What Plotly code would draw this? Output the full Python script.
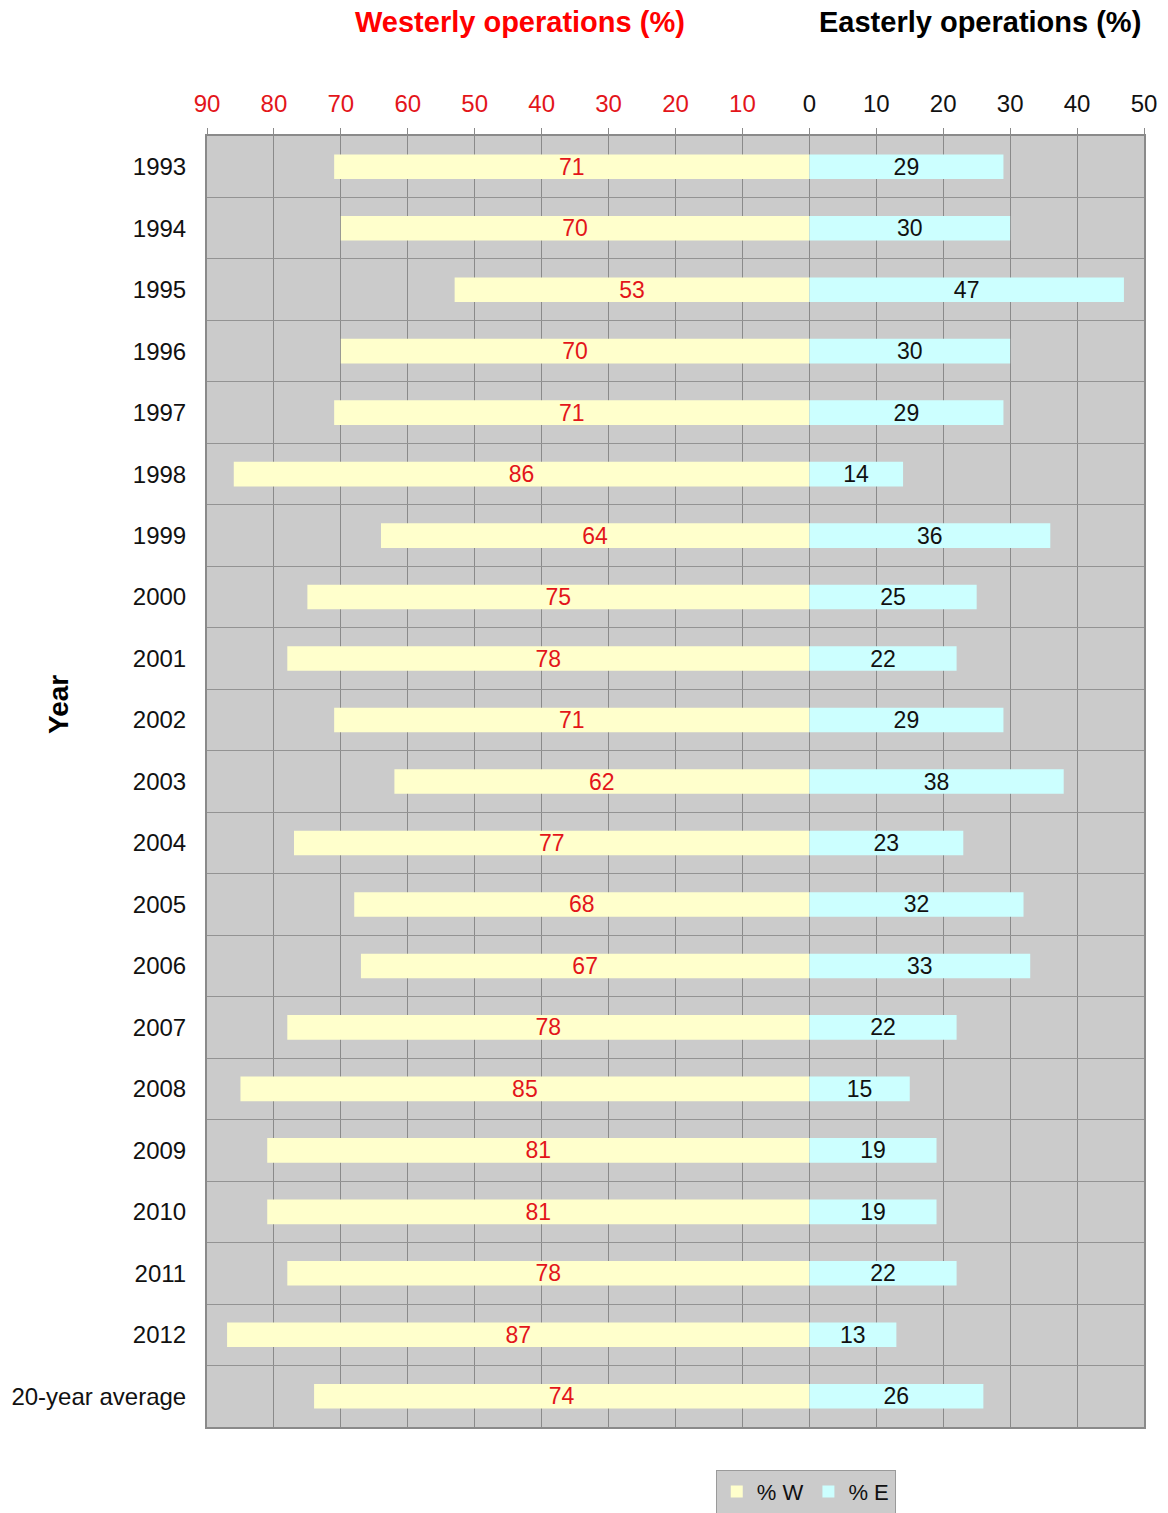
import plotly.graph_objects as go

years = ["1993", "1994", "1995", "1996", "1997", "1998", "1999", "2000", "2001", "2002",
         "2003", "2004", "2005", "2006", "2007", "2008", "2009", "2010", "2011", "2012",
         "20-year average"]
west = [71, 70, 53, 70, 71, 86, 64, 75, 78, 71, 62, 77, 68, 67, 78, 85, 81, 81, 78, 87, 74]
east = [29, 30, 47, 30, 29, 14, 36, 25, 22, 29, 38, 23, 32, 33, 22, 15, 19, 19, 22, 13, 26]
tick_vals = [-90, -80, -70, -60, -50, -40, -30, -20, -10, 0, 10, 20, 30, 40, 50]

RED = "#e3151a"
FONT = "Liberation Sans, Arial, sans-serif"

tick_text = [f"<span style='color:{RED}'>{abs(v)}</span>" if v < 0 else str(v) for v in tick_vals]

fig = go.Figure()
fig.add_trace(go.Bar(
    y=years, x=[-v for v in west], orientation="h", name="% W",
    marker=dict(color="#ffffcc", line=dict(width=0)), width=0.4,
    text=[str(v) for v in west], textposition="inside", insidetextanchor="middle",
    textfont=dict(color=RED, size=23, family=FONT), textangle=0,
    constraintext="none", cliponaxis=False,
))
fig.add_trace(go.Bar(
    y=years, x=east, orientation="h", name="% E",
    marker=dict(color="#ccffff", line=dict(width=0)), width=0.4,
    text=[str(v) for v in east], textposition="inside", insidetextanchor="middle",
    textfont=dict(color="#111111", size=23, family=FONT), textangle=0,
    constraintext="none", cliponaxis=False,
))

fig.update_layout(
    width=1168, height=1513,
    margin=dict(l=207, r=24, t=136, b=86, autoexpand=False),
    paper_bgcolor="white", plot_bgcolor="#cbcbcb",
    barmode="relative", bargap=0.6,
    font=dict(family=FONT, size=24, color="#111111"),
    showlegend=True,
    legend=dict(
        orientation="h", x=0.639, xanchor="center", y=-0.033, yanchor="top",
        bgcolor="#cbcbcb", bordercolor="#9a9a9a", borderwidth=1,
        font=dict(size=22, family=FONT, color="#111111"),
        itemwidth=30, tracegroupgap=0,
    ),
    xaxis=dict(
        side="top", range=[-90, 50], tickmode="array", tickvals=tick_vals, ticktext=tick_text,
        showgrid=True, gridcolor="#8a8a8a", gridwidth=1, zeroline=False,
        ticks="outside", ticklen=6, tickcolor="#8a8a8a",
        showline=True, linecolor="#8a8a8a", linewidth=2, mirror=True,
        tickfont=dict(size=24, family=FONT, color="#111111"), ticklabelstandoff=6,
        fixedrange=True,
    ),
    yaxis=dict(
        type="category", categoryorder="array", categoryarray=years, autorange="reversed",
        tickson="boundaries", showgrid=True, gridcolor="#939393", gridwidth=1,
        ticks="", showline=True, linecolor="#8a8a8a", linewidth=2, mirror=True,
        tickfont=dict(size=24, family=FONT, color="#111111"), ticklabelstandoff=14,
        fixedrange=True,
    ),
    annotations=[
        dict(text="<b>Westerly operations (%)</b>", x=520, y=22, xref="paper", yref="paper",
             showarrow=False, font=dict(size=29, color="#ff0000", family=FONT)),
        dict(text="<b>Easterly operations (%)</b>", x=980, y=22, xref="paper", yref="paper",
             showarrow=False, font=dict(size=29, color="#000000", family=FONT)),
        dict(text="<b>Year</b>", x=58, y=705, xref="paper", yref="paper", textangle=-90,
             showarrow=False, font=dict(size=28, color="#000000", family=FONT)),
    ],
)

# Convert pixel positions of annotations into paper coordinates
pw = 1168 - 207 - 24
ph = 1513 - 136 - 86
for a in fig.layout.annotations:
    px, py = a.x, a.y
    a.x = (px - 207) / pw
    a.y = (1513 - 86 - py) / ph
    a.xanchor = "center"
    a.yanchor = "middle"

fig.write_html("out.html")
